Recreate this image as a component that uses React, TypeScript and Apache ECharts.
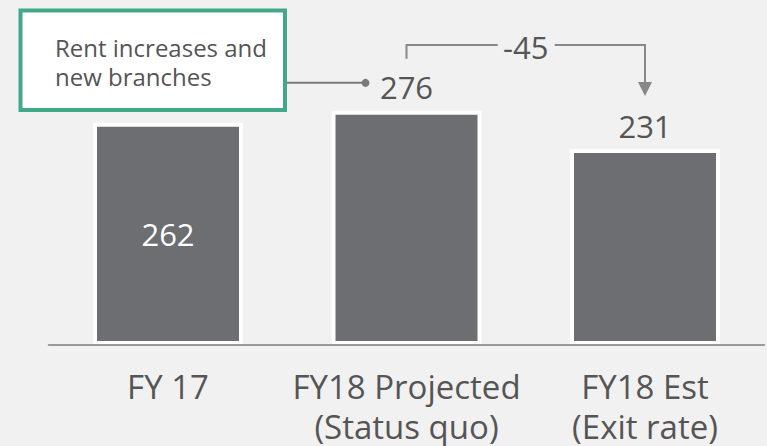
import React, { useEffect, useRef } from "react";
import * as echarts from "echarts";

const categories = ["FY 17", "FY18 Projected\n(Status quo)", "FY18 Est\n(Exit rate)"];
const values = [262, 276, 231];
const deltaLabel = "-45";
const noteText = "Rent increases and\nnew branches";

const FONT = '"Open Sans", "Noto Sans", sans-serif';
const TEXT = "#555555";
const BAR = "#6d6e72";
const LINE = "#888888";

export default function App() {
  const ref = useRef<HTMLDivElement>(null);
  useEffect(() => {
    document.body.style.margin = "0";
    const chart = echarts.init(ref.current!, null, { renderer: "svg" });
    chart.setOption({
      animation: false,
      backgroundColor: "#f1f1f1",
      textStyle: { fontFamily: FONT },
      grid: { left: 48.75, width: 715.5, top: 90.5, bottom: 99 },
      xAxis: {
        type: "category",
        data: categories,
        z: 5,
        axisTick: { show: false },
        axisLine: { lineStyle: { color: "#9a9a9a", width: 2 } },
        axisLabel: {
          interval: 0,
          hideOverlap: false,
          color: TEXT,
          fontSize: 33,
          lineHeight: 40,
          margin: 21,
          fontFamily: FONT,
          align: "center",
        },
      },
      yAxis: { type: "value", min: 0, max: 300, show: false },
      series: [
        {
          type: "bar",
          barWidth: 150,
          data: values.map((v, i) => ({
            value: v,
            label:
              i === 0
                ? { position: "inside", color: "#ffffff" }
                : { position: "top", distance: 8, color: TEXT },
          })),
          itemStyle: { color: BAR, borderColor: "#ffffff", borderWidth: 4 },
          label: { show: true, fontSize: 31, lineHeight: 31, fontFamily: FONT },
        },
      ],
    });

    const p2 = chart.convertToPixel({ seriesIndex: 0 }, [1, values[1]]) as number[];
    const p3 = chart.convertToPixel({ seriesIndex: 0 }, [2, values[2]]) as number[];
    const topY = 45;
    const leftX = p2[0];
    const rightX = p3[0];
    const midX = (leftX + rightX) / 2;
    const dotX = p2[0] - 41;
    const dotY = p2[1] - 28;

    chart.setOption({
      graphic: [
        {
          type: "rect",
          shape: { x: 20.5, y: 10.5, width: 264.5, height: 99.5 },
          style: { fill: "#ffffff", stroke: "#41a98a", lineWidth: 4 },
        },
        {
          type: "text",
          x: 55,
          y: 32.5,
          style: {
            text: noteText,
            font: `24px ${FONT}`,
            fill: TEXT,
            lineHeight: 29,
            verticalAlign: "top",
            align: "left",
          },
        },
        {
          type: "line",
          shape: { x1: 287, y1: dotY, x2: dotX, y2: dotY },
          style: { stroke: "#7a7a7a", lineWidth: 2 },
        },
        {
          type: "circle",
          shape: { cx: dotX, cy: dotY, r: 4 },
          style: { fill: "#7a7a7a" },
        },
        {
          type: "polyline",
          shape: { points: [[leftX, p2[1] - 52], [leftX, topY], [midX - 28, topY]] },
          style: { stroke: LINE, lineWidth: 2, fill: null },
        },
        {
          type: "text",
          x: midX,
          y: topY + 2,
          style: {
            text: deltaLabel,
            font: `31px ${FONT}`,
            fill: TEXT,
            align: "center",
            verticalAlign: "middle",
          },
        },
        {
          type: "polyline",
          shape: { points: [[midX + 29, topY], [rightX, topY], [rightX, p3[1] - 66]] },
          style: { stroke: LINE, lineWidth: 2, fill: null },
        },
        {
          type: "polygon",
          shape: {
            points: [
              [rightX - 7, p3[1] - 67],
              [rightX + 7, p3[1] - 67],
              [rightX, p3[1] - 53],
            ],
          },
          style: { fill: LINE },
        },
      ],
    });
    return () => chart.dispose();
  }, []);
  return <div ref={ref} style={{ width: 767, height: 446 }} />;
}
